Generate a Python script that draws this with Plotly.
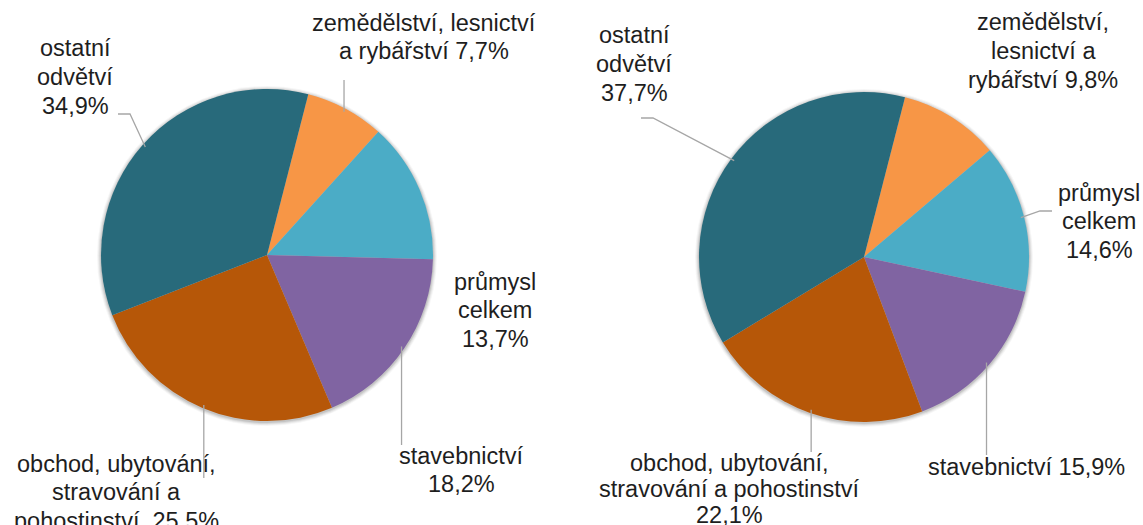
import math
import plotly.graph_objects as go

W, H = 1143, 525

categories = ["zemědělství, lesnictví a rybářství", "průmysl celkem", "stavebnictví",
              "obchod, ubytování, stravování a pohostinství", "ostatní odvětví"]
left_values = [7.7, 13.7, 18.2, 25.5, 34.9]
right_values = [9.8, 14.6, 15.9, 22.1, 37.7]
colors = ["#F79646", "#4BACC6", "#8064A2", "#B65708", "#286A7B"]

left_labels = [
    ["zemědělství, lesnictví", "a rybářství 7,7%"],
    ["průmysl", "celkem", "13,7%"],
    ["stavebnictví", "18,2%"],
    ["obchod, ubytování,", "stravování a", "pohostinství\u00a0 25,5%"],
    ["ostatní", "odvětví", "34,9%"],
]
right_labels = [
    ["zemědělství,", "lesnictví a", "rybářství 9,8%"],
    ["průmysl", "celkem", "14,6%"],
    ["stavebnictví 15,9%"],
    ["obchod, ubytování,", "stravování a pohostinství", "22,1%"],
    ["ostatní", "odvětví", "37,7%"],
]

ROT = 14.4
FONT = "Liberation Sans, Arial, sans-serif"
FS = 23.5
LH = 28.5
TXT = "#1E1E1E"
LINE = "#A6A6A6"

# pie geometry (pixels): centre x, centre y, radius
pies = [
    dict(vals=left_values, labels=left_labels, cx=267, cy=255, r=166,
         pos=[(424, 37), (495, 310), (461, 470), (116, 492), (75, 77)],
         lh=[LH, LH, LH, LH, LH],
         lead=[("v", 80), None, ("v", 445), ("v", 478), ("e", (130, 114), (118, 114))]),
    dict(vals=right_values, labels=right_labels, cx=864, cy=257, r=165,
         pos=[(1043, 51), (1099, 221), (1026, 467), (729, 489), (634, 64)],
         lh=[LH, LH, LH, 26, LH],
         lead=[None, ("e", (1040, 211), (1052, 211)), ("v", 455), ("v", 452),
               ("e", (653, 118), (641, 118))]),
]


def px(x, y):
    return x / W, 1 - y / H


fig = go.Figure()
annotations = []
shapes = []
for p in pies:
    # soft shadow behind the pie
    for extra, op in [(4, 0.035), (3, 0.05), (2, 0.07), (1, 0.09)]:
        sx0, sy1 = px(p["cx"] - p["r"] - extra, p["cy"] - p["r"] - extra + 1)
        sx1, sy0 = px(p["cx"] + p["r"] + extra, p["cy"] + p["r"] + extra + 1)
        shapes.append(dict(type="circle", xref="paper", yref="paper",
                           x0=sx0, x1=sx1, y0=sy0, y1=sy1, layer="below",
                           fillcolor="black", opacity=op, line=dict(width=0)))
    x0, y1 = px(p["cx"] - p["r"], p["cy"] - p["r"])
    x1, y0 = px(p["cx"] + p["r"], p["cy"] + p["r"])
    fig.add_trace(go.Pie(
        labels=categories, values=p["vals"], sort=False, direction="clockwise",
        rotation=ROT, marker=dict(colors=colors, line=dict(width=0)),
        textinfo="none", hoverinfo="label+percent", showlegend=False,
        domain=dict(x=[x0, x1], y=[y0, y1]),
    ))
    total = sum(p["vals"])
    cum = 0.0
    for i, v in enumerate(p["vals"]):
        mid = ROT + (cum + v / 2) / total * 360
        cum += v
        lines = p["labels"][i]
        bx, by = p["pos"][i]
        n = len(lines)
        for k, t in enumerate(lines):
            ly = by + (k - (n - 1) / 2) * p["lh"][i]
            ax, ay = px(bx, ly)
            annotations.append(dict(
                x=ax, y=ay, xref="paper", yref="paper", text=t, showarrow=False,
                xanchor="center", yanchor="middle",
                font=dict(family=FONT, size=FS, color=TXT)))
        ld = p["lead"][i]
        if ld is None:
            continue
        a = math.radians(mid)
        sx = p["cx"] + 0.98 * p["r"] * math.sin(a)
        sy = p["cy"] - 0.98 * p["r"] * math.cos(a)
        if ld[0] == "v":
            pts = [(sx, sy), (sx, ld[1])]
        else:
            pts = [(sx, sy), ld[1], ld[2]]
        path = ""
        for j, (qx, qy) in enumerate(pts):
            u, w = px(qx, qy)
            path += ("M" if j == 0 else "L") + f"{u:.5f},{w:.5f} "
        shapes.append(dict(type="path", path=path, xref="paper", yref="paper",
                           line=dict(color=LINE, width=1.3)))

fig.update_layout(
    width=W, height=H, margin=dict(l=0, r=0, t=0, b=0),
    paper_bgcolor="white", plot_bgcolor="white",
    annotations=annotations, shapes=shapes,
)
fig.write_html("out.html", config={"displayModeBar": False},
               post_script="document.body.style.margin='0';document.body.style.overflow='hidden';")
